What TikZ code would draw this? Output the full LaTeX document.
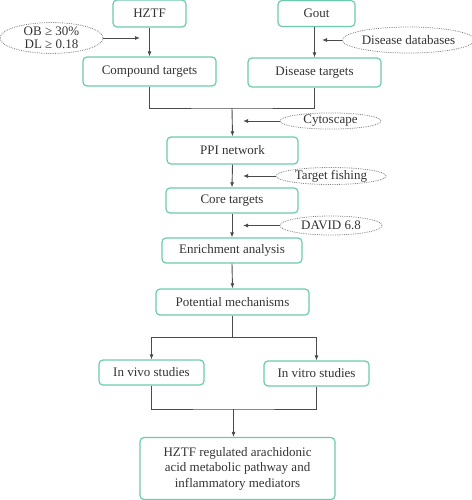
\documentclass[tikz,border=0pt]{standalone}
\usepackage{fontspec}
\setmainfont{Liberation Serif}
\usetikzlibrary{shapes.geometric,arrows.meta}
\definecolor{boxgreen}{HTML}{6CCBAE}
\definecolor{linegray}{HTML}{4A4A4A}
\tikzset{
  stage/.style={draw=boxgreen, line width=1.2pt, rounded corners=4pt, inner sep=0pt,
    text=black!80, align=center, font=\fontsize{13}{15.5}\selectfont},
  tool/.style={shape=ellipse, draw=black!50, densely dotted, line width=0.8pt, inner sep=0pt,
    text=black!80, align=center, font=\fontsize{13}{15}\selectfont},
  flow/.style={draw=linegray, line width=0.9pt, -{Latex[length=5pt,width=4pt]}},
  link/.style={draw=linegray, line width=0.9pt}
}
\begin{document}
\begin{tikzpicture}[x=1pt,y=-1pt]
            \useasboundingbox (0,0) rectangle (471,500);
            % stages
            \node[stage,minimum width=73pt,minimum height=27pt] (hztf) at (149.5,13.5) {HZTF};
            \node[stage,minimum width=77pt,minimum height=26pt] (gout) at (316.5,13.5) {Gout};
            \node[stage,minimum width=133pt,minimum height=29pt] (comp) at (149.5,71.5) {Compound targets};
            \node[stage,minimum width=133pt,minimum height=29pt] (dis) at (314.5,72.5) {Disease targets};
            \node[stage,minimum width=131pt,minimum height=27pt] (ppi) at (232.5,150.5) {PPI network};
            \node[stage,minimum width=132pt,minimum height=25pt] (core) at (232,200.5) {Core targets};
            \node[stage,minimum width=140pt,minimum height=25pt] (enr) at (232,250.5) {Enrichment analysis};
            \node[stage,minimum width=153pt,minimum height=26pt] (mech) at (232.5,302) {Potential mechanisms};
            \node[stage,minimum width=105pt,minimum height=25pt] (vivo) at (151.5,372.5) {In vivo studies};
            \node[stage,minimum width=105pt,minimum height=25pt] (vitro) at (316.5,373.5) {In vitro studies};
            \node[stage,minimum width=195pt,minimum height=62pt] (res) at (237.5,468.5)
              {HZTF regulated arachidonic\\acid metabolic pathway and\\inflammatory mediators};

            % tools
            \node[tool,minimum width=103pt,minimum height=30pt] (obdl) at (51.5,38) {OB ≥ 30\%\\[-2pt]DL ≥ 0.18};
            \node[tool,minimum width=109pt,minimum height=26pt] (ddb) at (408.5,40) {Disease databases};
            \node[tool,minimum width=101pt,minimum height=16pt] (cyto) at (330.5,121) {Cytoscape};
            \node[tool,minimum width=110pt,minimum height=17pt] (fish) at (331,176) {Target fishing};
            \node[tool,minimum width=102pt,minimum height=19pt] (david) at (331,225.5) {DAVID 6.8};

            % junctions
            \coordinate (j1) at (232,108);
            \coordinate (j2) at (232.5,337);
            \coordinate (j3) at (233.5,409);
            \coordinate (t1) at (140,38);
            \coordinate (t2) at (322,40);
            \coordinate (t3) at (243,121);
            \coordinate (t4) at (243,176);
            \coordinate (t5) at (243,225.5);

            % connectors
            \draw[flow] (hztf.south) -- (comp.north);
            \draw[flow] (gout.south -| dis.north) -- (dis.north);
            \draw[link] (comp.south) |- (j1) -| (dis.south);
            \draw[flow] (j1) -- (ppi.north);
            \draw[flow] (ppi.south) -- (core.north);
            \draw[flow] (core.south) -- (enr.north);
            \draw[flow] (enr.south) -- (mech.north);
            \draw[link] (mech.south) -- (j2);
            \draw[flow] (j2) -| (vivo.north);
            \draw[flow] (j2) -| (vitro.north);
            \draw[link] (vivo.south) |- (j3) -| (vitro.south);
            \draw[flow] (j3) -- (j3 |- res.north);
            \draw[flow] (obdl.east) -- (t1);
            \draw[flow] (ddb.west) -- (t2);
            \draw[flow] (cyto.west) -- (t3);
            \draw[flow] (fish.west) -- (t4);
            \draw[flow] (david.west) -- (t5);
\end{tikzpicture}
\end{document}
